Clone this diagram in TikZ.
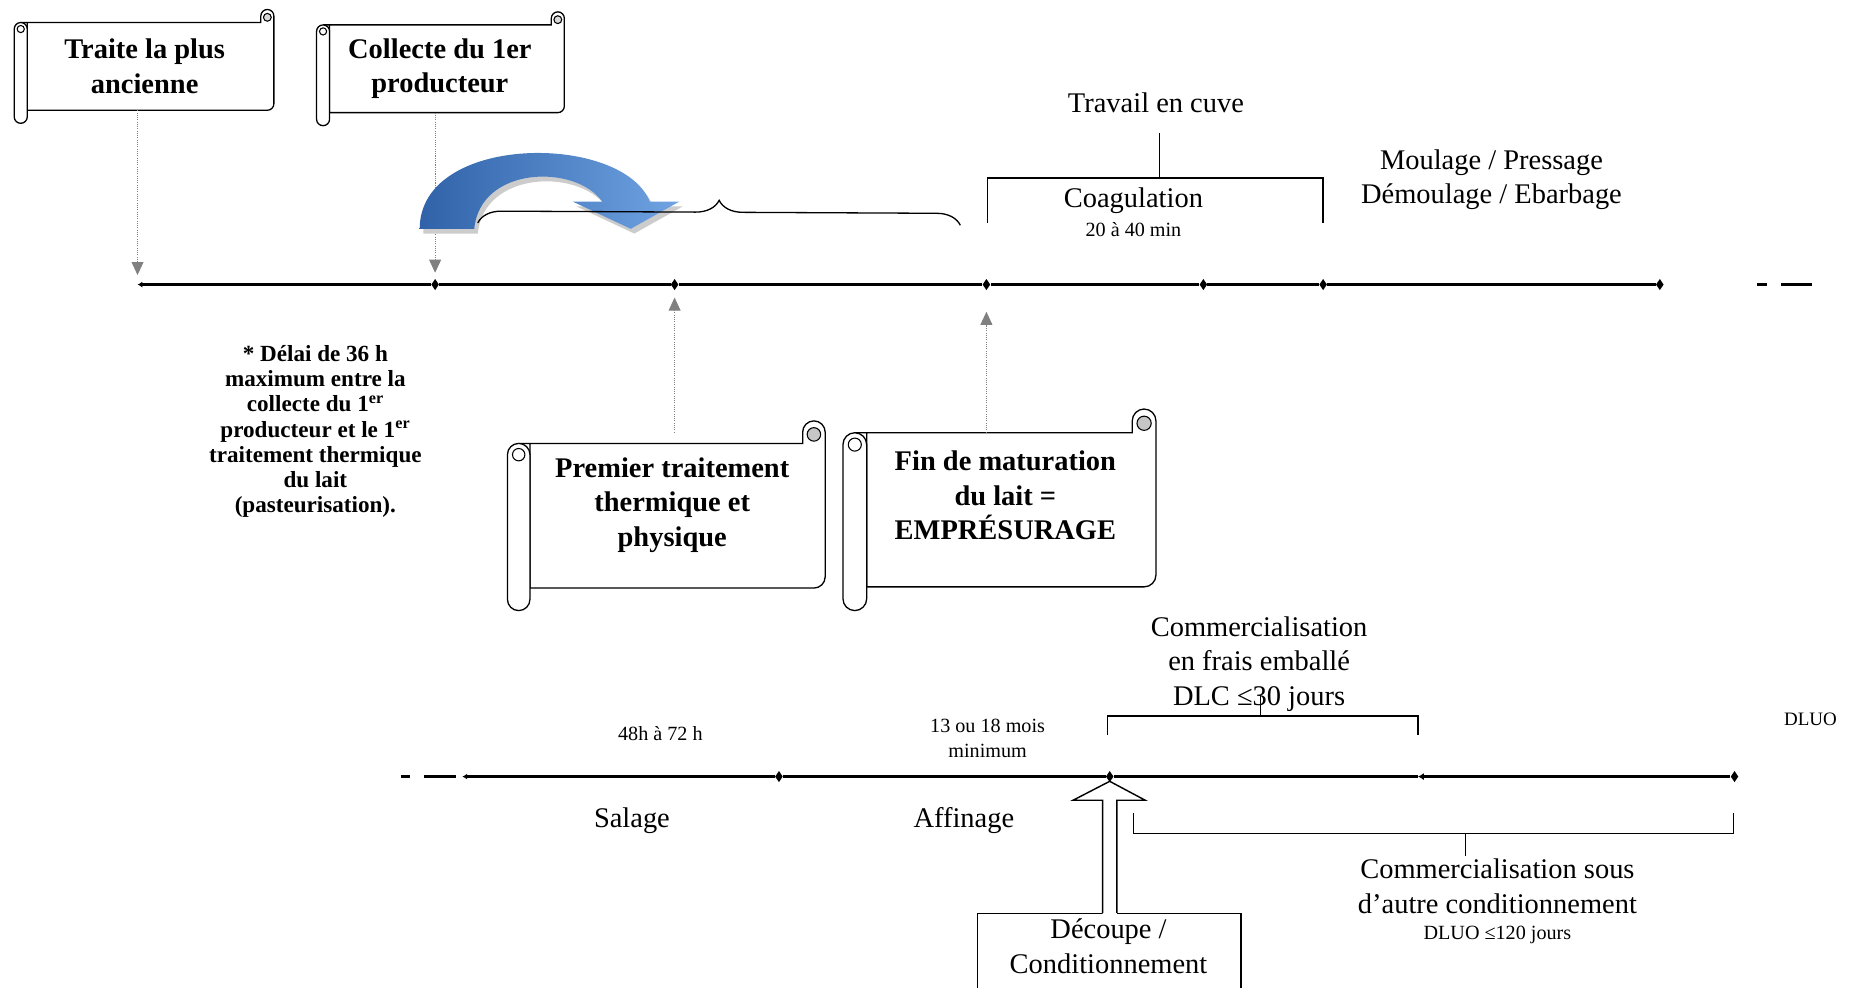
\documentclass[tikz,border=0pt]{standalone}
\usepackage{fontspec}
\setmainfont{Liberation Serif}
\usetikzlibrary{arrows.meta,shapes.geometric,decorations.pathreplacing}

\definecolor{arrowdark}{RGB}{47,98,168}
\definecolor{arrowlight}{RGB}{112,163,226}

% horizontal scroll: left, top, right, bottom, roll width, curl fill
\newcommand{\hscroll}[6]{%
  \pgfmathsetmacro{\chh}{#5/2}
  \draw[fill=white, line width=1.1pt] ({#1+\chh},{#2+#5}) -- ({#3-#5},{#2+#5}) -- ({#3-#5},{#2+\chh})
    arc[start angle=180, end angle=360, radius=\chh] -- (#3,{#4-#5-\chh})
    arc[start angle=0, end angle=90, radius=\chh] -- ({#1+#5},{#4-#5}) -- ({#1+#5},{#2+#5}) -- cycle;
  \draw[fill=#6, line width=0.9pt] ({#3-\chh},{#2+\chh*1.2}) circle ({\chh*0.6});
  \draw[fill=white, line width=1.1pt] (#1,{#2+#5+\chh}) arc[start angle=180, end angle=360, radius=\chh]
    -- ({#1+#5},{#4-\chh}) arc[start angle=0, end angle=180, radius=\chh] -- cycle;
  \draw[fill=white, line width=0.9pt] ({#1+\chh},{#2+#5+\chh}) circle ({\chh*0.55});
}

\begin{document}
\begin{tikzpicture}[x=1pt,y=-1pt,
    lbl/.style={font=\fontsize{24}{29}\selectfont, align=center, inner sep=0pt},
    boldlbl/.style={font=\fontsize{24}{29}\selectfont\bfseries, align=center, inner sep=0pt},
    smalllbl/.style={font=\fontsize{17}{21}\selectfont, align=center, inner sep=0pt},
    notelbl/.style={font=\fontsize{19.5}{21.2}\selectfont\bfseries, align=center, inner sep=0pt},
    tline/.style={line width=2.6pt},
    tick/.style={diamond, fill=black, inner sep=0pt, minimum width=6.5pt, minimum height=9.5pt},
    dotarrow/.style={densely dotted, gray, line width=0.9pt, -{Triangle[width=10pt,length=11pt]}},
    bracket/.style={line width=1.2pt}]
  \useasboundingbox (0,0) rectangle (1568,833);

  % scrolls
  \hscroll{12}{8}{231}{104}{11}{gray!30}
  \hscroll{267}{10}{476}{106}{11}{gray!30}
  \hscroll{428}{355}{696}{515}{19}{gray!45}
  \hscroll{711}{345}{975}{515}{20}{gray!45}
  \node[boldlbl] (traite) at (122,56) {Traite la plus\\ancienne};
  \node[boldlbl] (collecte) at (371,58) {Collecte du 1er\\producteur};
  \node[boldlbl] (premier) at (567,426) {Premier traitement\\thermique et\\physique};
  \node[boldlbl] (finmat) at (848,418) {Fin de maturation\\du lait =\\EMPRÉSURAGE};

  % first time line
  \coordinate (a0) at (116,240);
  \node[tick] (a1) at (367,240) {};
  \node[tick] (a2) at (569,240) {};
  \node[tick] (a3) at (832,240) {};
  \node[tick] (a4) at (1015,240) {};
  \node[tick] (a5) at (1116,240) {};
  \node[tick] (a6) at (1400,240) {};
  \draw[tline, {Latex[length=4pt,width=5pt]}-] (a0) -- (a1);
  \draw[tline] (a1) -- (a2) -- (a3) -- (a4) -- (a5) -- (a6);
  \draw[tline] (1482,240) -- (1490,240);
  \draw[tline] (1502,240) -- (1528,240);

  \coordinate (traitefoot) at (116,93);
  \coordinate (collectefoot) at (367,95);
  \coordinate (premierhead) at (569,365);
  \coordinate (finmathead) at (832,365);
  \draw[dotarrow, shorten >=8pt] (traitefoot) -- (a0);
  \draw[dotarrow, shorten >=5pt] (collectefoot) -- (a1);
  \draw[dotarrow, shorten >=6pt] (premierhead) -- (a2);
  \draw[dotarrow, shorten >=18pt] (finmathead) -- (a3);

  % curved arrow
  \fill[gray!40] (357,197) .. controls (357,116) and (528,116) .. (551,174) -- (576,174) -- (535,197) -- (486,174) -- (511,174)
    .. controls (488,142) and (408,144) .. (403,197) -- cycle;
  \shade[left color=arrowdark, right color=arrowlight] (354,193) .. controls (354,112) and (525,112) .. (548,170)
    -- (573,170) -- (532,193) -- (483,170) -- (508,170)
    .. controls (485,138) and (405,140) .. (400,193) -- cycle;
  \draw[line width=1.1pt, decorate, decoration={brace, amplitude=20pt}] (403,188) -- (810,190);

  \node[lbl] (cuve) at (975,87) {Travail en cuve};
  \draw[bracket] (833,188) -- (833,150) -- (1116,150) -- (1116,188);
  \draw[bracket] (978,150) -- (978,112);
  \node[lbl] (coag) at (956,169) {Coagulation};
  \node[smalllbl] (coagtime) at (956,194) {20 à 40 min};
  \node[lbl] (moulage) at (1258,151.5) {Moulage / Pressage\\Démoulage / Ebarbage};

  \node[notelbl] (delai) at (266,364) {* Délai de 36 h\\maximum entre la\\collecte du 1\textsuperscript{er}\\producteur et le 1\textsuperscript{er}\\traitement thermique\\du lait\\(pasteurisation).};

  % second time line
  \coordinate (b0) at (390,655);
  \node[tick] (b1) at (657,655) {};
  \node[tick] (b2) at (936,655) {};
  \coordinate (b3) at (1196,655);
  \node[tick] (b4) at (1463,655) {};
  \draw[tline, {Latex[length=4pt,width=5pt]}-] (b0) -- (b1);
  \draw[tline] (b1) -- (b2) -- (b3);
  \draw[tline, {Latex[length=5pt,width=6pt]}-] (b3) -- (b4);
  \draw[tline] (338,655) -- (346,655);
  \draw[tline] (358,655) -- (385,655);

  \node[smalllbl] (salagetime) at (557,619) {48h à 72 h};
  \node[smalllbl] (affinagetime) at (833,622.5) {13 ou 18 mois\\minimum};
  \node[lbl] (salage) at (533,692) {Salage};
  \node[lbl] (affinage) at (813,692) {Affinage};

  \node[lbl] (frais) at (1062,560) {Commercialisation\\en frais emballé\\DLC ≤30 jours};
  \draw[bracket] (934,620) -- (934,604) -- (1196,604) -- (1196,620);
  \draw[bracket] (1063,604) -- (1063,586);
  \node[font=\fontsize{16}{19}\selectfont, inner sep=0pt] (dluo) at (1527,607) {DLUO};

  \draw[bracket] (956,686) -- (956,703) -- (1462,703) -- (1462,686);
  \draw[bracket] (1236,703) -- (1236,722);
  \node[lbl] (autre) at (1263,747.5) {Commercialisation sous\\d’autre conditionnement};
  \node[smalllbl] (autretime) at (1263,789) {DLUO ≤120 jours};

  % cutting box and hollow arrow
  \node[draw, line width=1.2pt, minimum width=222pt, minimum height=80pt, anchor=north west] (decoupebox) at (824,770) {};
  \fill[white] (930,772) -- (930,675) -- (905,675) -- (936,659) -- (966,675) -- (942,675) -- (942,772) -- cycle;
  \draw[line width=1.2pt] (930,770) -- (930,675) -- (905,675) -- (936,659) -- (966,675) -- (942,675) -- (942,770);
  \node[lbl] (decoupe) at (935,798) {Découpe /\\Conditionnement};
\end{tikzpicture}
\end{document}
